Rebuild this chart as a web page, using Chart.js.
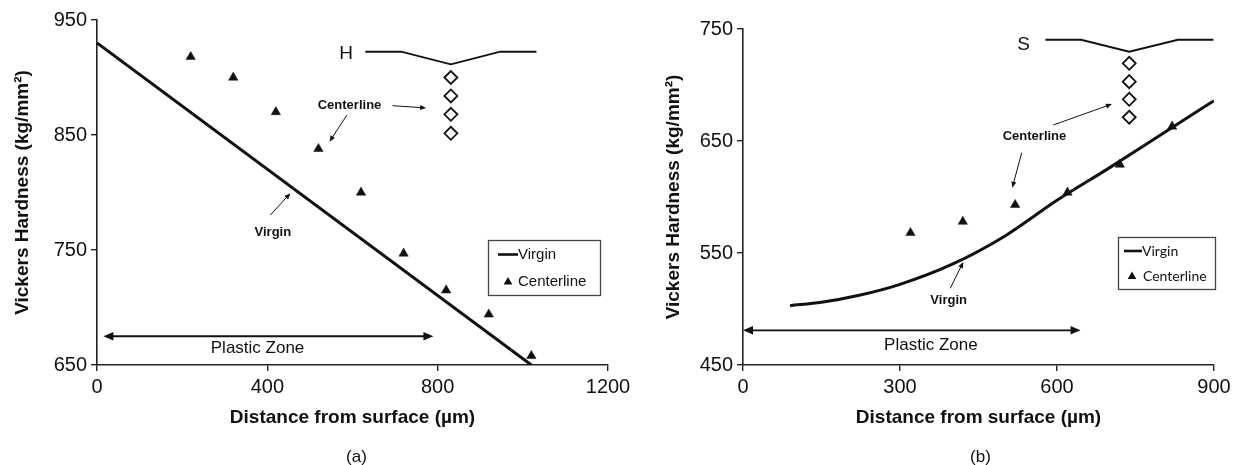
<!DOCTYPE html>
<html><head><meta charset="utf-8">
<script src="https://cdn.jsdelivr.net/npm/chart.js@4.4.0/dist/chart.umd.min.js"></script>
<style>
html,body{margin:0;padding:0;background:#fff;}
#wrap{position:relative;width:1242px;height:465px;overflow:hidden;background:#fff;}
#cA{position:absolute;left:0;top:0;}
#cB{position:absolute;left:630px;top:0;}
</style></head><body>
<div id="wrap">
<canvas id="cA" width="640" height="465"></canvas>
<canvas id="cB" width="612" height="465"></canvas>
</div>
<script>
// ---------- data: panel (a) ----------
const distA = [220, 320, 420, 520, 620, 720, 820, 920, 1020];
const centerlineA = [918, 900, 870, 838, 800, 747, 715, 694, 658];
const virginDistA = [0, 1020];
const virginA = [930, 650];
const xTicksA = [0, 400, 800, 1200];
const yTicksA = [650, 750, 850, 950];
// schematic (indent profile + diamonds), data units
const profileXA = [630, 714, 831, 947, 1032];
const profileYA = [922.4, 922.4, 911.5, 922.4, 922.4];
const diamondXA = [831, 831, 831, 831];
const diamondYA = [900, 884, 868, 851.5];

// ---------- data: panel (b) ----------
const distB = [320, 420, 520, 620, 720, 820];
const centerlineB = [568, 578, 593, 604, 629, 663];
const virginDistB = [90, 150, 220, 300, 400, 500, 600, 700, 800, 900];
const virginB = [503, 506, 512, 522, 540, 565, 597, 626, 656, 686];
const xTicksB = [0, 300, 600, 900];
const yTicksB = [450, 550, 650, 750];
const profileXB = [578, 646, 738, 831, 899];
const profileYB = [740.4, 740.4, 729.7, 740.4, 740.4];
const diamondXB = [738, 738, 738, 738];
const diamondYB = [719.4, 703, 687.2, 671.2];

const FONT = '"Liberation Sans", Arial, Helvetica, sans-serif';
const INK = '#111';

function pts(xs, ys) { return xs.map((x, i) => ({x: x, y: ys[i]})); }

function drawArrow(ctx, x1, y1, x2, y2, lw, head, both) {
  ctx.strokeStyle = INK; ctx.fillStyle = INK; ctx.lineWidth = lw;
  const ang = Math.atan2(y2 - y1, x2 - x1);
  const hw = head * 0.42;
  function headAt(x, y, a) {
    ctx.beginPath();
    ctx.moveTo(x, y);
    ctx.lineTo(x - head * Math.cos(a) + hw * Math.sin(a), y - head * Math.sin(a) - hw * Math.cos(a));
    ctx.lineTo(x - head * Math.cos(a) - hw * Math.sin(a), y - head * Math.sin(a) + hw * Math.cos(a));
    ctx.closePath(); ctx.fill();
  }
  const sx = both ? x1 + head * 0.8 * Math.cos(ang) : x1, sy = both ? y1 + head * 0.8 * Math.sin(ang) : y1;
  const ex = x2 - head * 0.8 * Math.cos(ang), ey = y2 - head * 0.8 * Math.sin(ang);
  ctx.beginPath(); ctx.moveTo(sx, sy); ctx.lineTo(ex, ey); ctx.stroke();
  headAt(x2, y2, ang);
  if (both) headAt(x1, y1, ang + Math.PI);
}

const annoPlugin = {
  id: 'anno',
  afterDatasetsDraw(chart, args, o) {
    const ctx = chart.ctx, xs = chart.scales.x, ys = chart.scales.y, ca = chart.chartArea;
    const px = v => xs.getPixelForValue(v), py = v => ys.getPixelForValue(v);
    ctx.save();
    (o.arrows || []).forEach(a => drawArrow(ctx, px(a.x1), py(a.y1), px(a.x2), py(a.y2), a.lw, a.head, a.both));
    (o.texts || []).forEach(t => {
      ctx.font = t.font; ctx.fillStyle = INK; ctx.textAlign = 'center'; ctx.textBaseline = 'middle';
      ctx.fillText(t.text, px(t.x), py(t.y));
    });
    // legend box
    const L = o.legend;
    const bx = ca.right + L.dxRight - L.w, by = ca.top + L.dyTop;
    ctx.strokeStyle = '#444'; ctx.lineWidth = 1.3;
    ctx.strokeRect(bx + 0.5, by + 0.5, L.w, L.h);
    ctx.font = L.font; ctx.fillStyle = INK; ctx.textAlign = 'left'; ctx.textBaseline = 'middle';
    const ds = chart.data.datasets.filter(d => d.inLegend);
    ds.forEach((d, i) => {
      const row = L.rows[i];
      const cy = by + row.dy;
      if (d.showLine) {
        ctx.strokeStyle = INK; ctx.lineWidth = 2.6;
        ctx.beginPath(); ctx.moveTo(bx + row.sx1, cy); ctx.lineTo(bx + row.sx2, cy); ctx.stroke();
      } else {
        const cx = bx + row.mx, r = 5;
        ctx.beginPath();
        ctx.moveTo(cx, cy - r); ctx.lineTo(cx + r * 0.87, cy + r * 0.5); ctx.lineTo(cx - r * 0.87, cy + r * 0.5);
        ctx.closePath(); ctx.fill();
      }
      ctx.fillStyle = INK;
      ctx.fillText(d.label, bx + row.tx, cy);
    });
    // panel caption
    ctx.font = '17px ' + FONT; ctx.textAlign = 'center'; ctx.textBaseline = 'middle'; ctx.fillStyle = INK;
    ctx.fillText(o.caption, (ca.left + ca.right) / 2 + o.captionDx, o.captionY);
    ctx.restore();
  }
};

function scalesFor(xt, yt, yAxisW, xAxisH, yTitlePad, xTitlePad) {
  const axisCommon = {
    type: 'linear',
    grid: {display: true, drawOnChartArea: false, drawTicks: true, tickLength: 6, color: '#222', lineWidth: 1.4},
    border: {display: true, color: '#222', width: 1.6},
  };
  return {
    x: Object.assign({}, axisCommon, {
      min: xt[0], max: xt[xt.length - 1],
      afterBuildTicks: s => { s.ticks = xt.map(v => ({value: v})); },
      afterFit: s => { s.height = xAxisH; },
      ticks: {color: INK, font: {family: FONT, size: 20}, padding: 4, maxRotation: 0, autoSkip: false,
              callback: v => String(v)},
      title: {display: true, text: 'Distance from surface (µm)', color: INK,
              font: {family: FONT, size: 19, weight: 'bold'}, padding: {top: 0, bottom: xTitlePad}}
    }),
    y: Object.assign({}, axisCommon, {
      min: yt[0], max: yt[yt.length - 1],
      afterBuildTicks: s => { s.ticks = yt.map(v => ({value: v})); },
      afterFit: s => { s.width = yAxisW; },
      ticks: {color: INK, font: {family: FONT, size: 20}, padding: 4, autoSkip: false,
              callback: v => String(v)},
      title: {display: true, text: 'Vickers Hardness (kg/mm²)', color: INK,
              font: {family: FONT, size: 19, weight: 'bold'}, padding: {top: yTitlePad, bottom: 0}}
    })
  };
}

function datasetsFor(vx, vy, cx, cy, prx, pry, dx, dy, tension) {
  return [
    {label: 'Virgin', inLegend: true, data: pts(vx, vy), showLine: true, borderColor: INK, borderWidth: 3,
     pointRadius: 0, tension: tension, cubicInterpolationMode: tension ? 'monotone' : 'default', order: 2},
    {label: 'Centerline', inLegend: true, data: pts(cx, cy), showLine: false, pointStyle: 'triangle',
     pointRadius: 5.4, backgroundColor: INK, borderColor: INK, borderWidth: 0.5, order: 1},
    {label: 'profile', data: pts(prx, pry), showLine: true, borderColor: INK, borderWidth: 1.8, pointRadius: 0, tension: 0},
    {label: 'indents', data: pts(dx, dy), showLine: false, pointStyle: 'rectRot', pointRadius: 6.5,
     backgroundColor: '#fff', borderColor: INK, borderWidth: 1.8}
  ];
}

const boldSmall = 'bold 13px ' + FONT;

new Chart(document.getElementById('cA'), {
  type: 'scatter',
  data: {datasets: datasetsFor(virginDistA, virginA, distA, centerlineA, profileXA, profileYA, diamondXA, diamondYA, 0)},
  options: {
    responsive: false, animation: false, devicePixelRatio: 1,
    layout: {padding: {top: 20, right: 32, bottom: 0, left: 0}},
    scales: scalesFor(xTicksA, yTicksA, 97, 100, 11, 35.5),
    plugins: {
      legend: {display: false}, tooltip: {enabled: false},
      anno: {
        texts: [
          {text: 'H', x: 585, y: 921, font: '19px ' + FONT},
          {text: 'Centerline', x: 593, y: 876, font: boldSmall},
          {text: 'Virgin', x: 413, y: 765, font: boldSmall},
          {text: 'Plastic Zone', x: 377, y: 664.5, font: '17px ' + FONT}
        ],
        arrows: [
          {x1: 694, y1: 875.5, x2: 773, y2: 873.5, lw: 1, head: 6},
          {x1: 587, y1: 867.4, x2: 546, y2: 844.2, lw: 1, head: 6},
          {x1: 407, y1: 780.4, x2: 454, y2: 799.3, lw: 1, head: 6},
          {x1: 15, y1: 675, x2: 790, y2: 675, lw: 1.8, head: 10, both: true}
        ],
        legend: {dxRight: -8, dyTop: 220, w: 112, h: 55, font: '15px ' + FONT,
                 rows: [{dy: 14.5, sx1: 10, sx2: 30, tx: 30}, {dy: 42, mx: 20, tx: 30}]},
        caption: '(a)', captionDx: 4, captionY: 457
      }
    }
  },
  plugins: [annoPlugin]
});

new Chart(document.getElementById('cB'), {
  type: 'scatter',
  data: {datasets: datasetsFor(virginDistB, virginB, distB, centerlineB, profileXB, profileYB, diamondXB, diamondYB, 0.4)},
  options: {
    responsive: false, animation: false, devicePixelRatio: 1,
    layout: {padding: {top: 29, right: 28, bottom: 0, left: 0}},
    scales: scalesFor(xTicksB, yTicksB, 113, 100, 32.5, 35.5),
    plugins: {
      legend: {display: false}, tooltip: {enabled: false},
      anno: {
        texts: [
          {text: 'S', x: 536, y: 736, font: '19px ' + FONT},
          {text: 'Centerline', x: 557, y: 654, font: boldSmall},
          {text: 'Virgin', x: 393, y: 508, font: boldSmall},
          {text: 'Plastic Zone', x: 359, y: 468, font: '17px ' + FONT}
        ],
        arrows: [
          {x1: 593, y1: 664.3, x2: 705, y2: 683, lw: 1, head: 6},
          {x1: 532.6, y1: 639.6, x2: 514.6, y2: 608.3, lw: 1, head: 6},
          {x1: 396, y1: 518.5, x2: 421, y2: 542, lw: 1, head: 6},
          {x1: 0, y1: 481, x2: 645, y2: 481, lw: 1.8, head: 10, both: true}
        ],
        legend: {dxRight: 1, dyTop: 208, w: 97, h: 52, font: '14px Lato, "Noto Sans", sans-serif',
                 rows: [{dy: 14, sx1: 6, sx2: 24, tx: 24}, {dy: 39.5, mx: 14, tx: 25}]},
        caption: '(b)', captionDx: 2, captionY: 457
      }
    }
  },
  plugins: [annoPlugin]
});
</script>
</body></html>
